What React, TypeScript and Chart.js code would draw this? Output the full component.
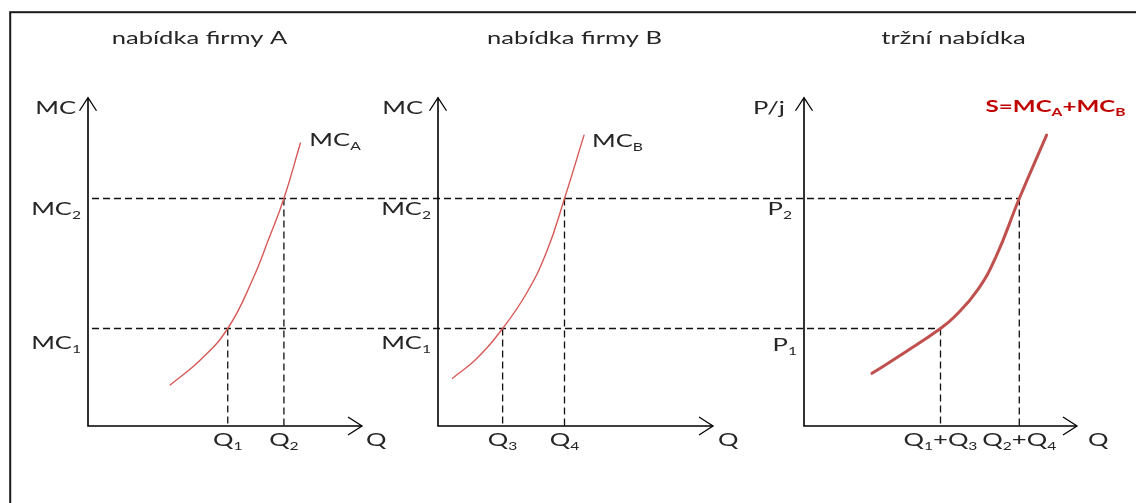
import React, { useEffect, useRef } from 'react';
import { Chart, registerables } from 'chart.js';

Chart.register(...registerables);

// Cost / price levels shared by all three panels (MC1 = P1, MC2 = P2)
const costLevels = [3, 7];
// Quantities each firm supplies at those cost levels
const firmAQuantities = [5.1, 7.15]; // Q1, Q2
const firmBQuantities = [2.35, 4.6]; // Q3, Q4
// Market supply is the horizontal sum of the two firms
const marketQuantities = firmAQuantities.map((q, i) => q + firmBQuantities[i]);

// Marginal cost curve of firm A
const firmAQ = [3.0, 4.1, 5.1, 6.0, 6.58, 7.15, 7.75];
const firmAMC = [1.26, 2.03, 3, 4.49, 5.72, 7, 8.7];
// Marginal cost curve of firm B
const firmBQ = [0.53, 1.41, 2.35, 3.23, 3.95, 4.6, 5.31];
const firmBMC = [1.47, 2.08, 3, 4.1, 5.36, 7, 8.95];
// Market supply curve
const marketQ = [3.71, 5.58, 7.45, 8.21, 9.47, 10.48, 11.75, 13.24];
const marketP = [1.62, 2.29, 3, 3.36, 4.18, 5.21, 7, 8.95];

// Text: each label is a list of [normal text, subscript] pairs
type Rich = [string, string][];
const panelTitles = ['nabídka firmy A', 'nabídka firmy B', 'tržní nabídka'];
const axisNames: Rich[] = [[['MC', '']], [['MC', '']], [['P/j', '']]];
const levelLabels: Rich[][] = [
  [[['MC', '1']], [['MC', '2']]],
  [[['MC', '1']], [['MC', '2']]],
  [[['P', '1']], [['P', '2']]],
];
const quantityLabels: Rich[][] = [
  [[['Q', '1']], [['Q', '2']]],
  [[['Q', '3']], [['Q', '4']]],
  [[['Q', '1'], ['+Q', '3']], [['Q', '2'], ['+Q', '4']]],
];
const curveLabels: Rich[] = [[['MC', 'A']], [['MC', 'B']], [['S=MC', 'A'], ['+MC', 'B']]];

// ---- layout ----
const W = 1136;
const H = 503;
const Y_ORIGIN = 426;
const Y_PPU = 32.5;
const Y_TOP = 10.1;
const FONT_FAMILY = "Lato, 'Open Sans', sans-serif";
const MAIN_FONT = `18px ${FONT_FAMILY}`;
const SUB_FONT = `11px ${FONT_FAMILY}`;
const TEXT_STRETCH = 1.42; // wide lettering
const TEXT_COLOR = '#262626';

const PANELS = [
  { id: 'qa', left: 0, width: 400, origin: 88, tip: 362, qMax: 10, titleX: 199.5,
    nameGap: 12, levelGap: [7, 7], levelDrop: [20, 16], qGap: 4, label: [9, 3] },
  { id: 'qb', left: 400, width: 370, origin: 438, tip: 713, qMax: 10, titleX: 574.5,
    nameGap: 15, levelGap: [7, 7], levelDrop: [20, 16], qGap: 5, label: [8, 12] },
  { id: 'qc', left: 770, width: 366, origin: 804, tip: 1077, qMax: 14.9, titleX: 953.5,
    nameGap: 19, levelGap: [7, 12], levelDrop: [22, 16], qGap: 11, label: [-61, -23] },
];

function drawRich(
  ctx: CanvasRenderingContext2D,
  parts: Rich,
  x: number,
  y: number,
  align: 'left' | 'center' | 'right',
  mainFont = MAIN_FONT,
  subFont = SUB_FONT,
) {
  const sizes = parts.map(([m, s]) => {
    ctx.font = mainFont;
    const wm = ctx.measureText(m).width * TEXT_STRETCH;
    ctx.font = subFont;
    const ws = s ? ctx.measureText(s).width * TEXT_STRETCH : 0;
    return [wm, ws];
  });
  const total = sizes.reduce((a, [wm, ws]) => a + wm + ws, 0);
  let cx = align === 'center' ? x - total / 2 : align === 'right' ? x - total : x;
  ctx.textAlign = 'left';
  ctx.textBaseline = 'alphabetic';
  const put = (t: string, font: string, px: number, py: number) => {
    ctx.save();
    ctx.font = font;
    ctx.translate(px, py);
    ctx.scale(TEXT_STRETCH, 1);
    ctx.fillText(t, 0, 0);
    ctx.restore();
  };
  parts.forEach(([m, s], i) => {
    put(m, mainFont, cx, y);
    cx += sizes[i][0];
    if (s) {
      put(s, subFont, cx, y + 4);
      cx += sizes[i][1];
    }
  });
}

function chevron(ctx: CanvasRenderingContext2D, pts: number[][]) {
  ctx.beginPath();
  ctx.moveTo(pts[0][0], pts[0][1]);
  ctx.lineTo(pts[1][0], pts[1][1]);
  ctx.lineTo(pts[2][0], pts[2][1]);
  ctx.stroke();
}

const panelQuantities = [firmAQuantities, firmBQuantities, marketQuantities];

const diagramPlugin = {
  id: 'supplyDiagram',
  beforeDatasetsDraw(chart: any) {
    const ctx: CanvasRenderingContext2D = chart.ctx;
    const ys = chart.scales.p;
    const xs = PANELS.map((p) => chart.scales[p.id]);
    const y0 = ys.getPixelForValue(0);
    const yTop = ys.getPixelForValue(Y_TOP);
    ctx.save();

    // frame
    ctx.strokeStyle = '#1a1a1a';
    ctx.lineWidth = 2;
    ctx.strokeRect(10.2, 12.2, W + 40, H + 40);

    // dashed guide lines
    ctx.strokeStyle = '#111';
    ctx.lineWidth = 1.3;
    ctx.setLineDash([7, 4]);
    costLevels.forEach((level, i) => {
      const yl = ys.getPixelForValue(level);
      ctx.beginPath();
      ctx.moveTo(xs[0].getPixelForValue(0) + 4, yl);
      ctx.lineTo(xs[2].getPixelForValue(marketQuantities[i]), yl);
      ctx.stroke();
      xs.forEach((sc: any, k: number) => {
        const xq = sc.getPixelForValue(panelQuantities[k][i]);
        ctx.beginPath();
        ctx.moveTo(xq, yl);
        ctx.lineTo(xq, y0);
        ctx.stroke();
      });
    });
    ctx.setLineDash([]);

    // axes with open arrow heads
    ctx.strokeStyle = '#000';
    PANELS.forEach((p, k) => {
      const sc = xs[k];
      const x0 = sc.getPixelForValue(0);
      const xTip = sc.getPixelForValue(p.qMax);
      ctx.lineWidth = 1.6;
      ctx.beginPath();
      ctx.moveTo(x0, yTop);
      ctx.lineTo(x0, y0);
      ctx.lineTo(xTip, y0);
      ctx.stroke();
      ctx.lineWidth = 1.3;
      chevron(ctx, [[x0 - 8.5, yTop + 13], [x0, yTop], [x0 + 8.5, yTop + 13]]);
      chevron(ctx, [[xTip - 14, y0 - 9], [xTip, y0], [xTip - 14, y0 + 9]]);
    });
    ctx.restore();
  },
  afterDatasetsDraw(chart: any) {
    const ctx: CanvasRenderingContext2D = chart.ctx;
    const ys = chart.scales.p;
    const xs = PANELS.map((p) => chart.scales[p.id]);
    const y0 = ys.getPixelForValue(0);
    const yTop = ys.getPixelForValue(Y_TOP);
    ctx.save();
    ctx.fillStyle = TEXT_COLOR;

    PANELS.forEach((p, k) => {
      const sc = xs[k];
      const x0 = sc.getPixelForValue(0);
      drawRich(ctx, [[panelTitles[k], '']], p.titleX, 44, 'center');
      drawRich(ctx, axisNames[k], x0 - p.nameGap, yTop + 16, 'right');
      costLevels.forEach((level, i) => {
        const yl = ys.getPixelForValue(level);
        drawRich(ctx, levelLabels[k][i], x0 - p.levelGap[i], yl + p.levelDrop[i], 'right');
        const xq = sc.getPixelForValue(panelQuantities[k][i]);
        drawRich(ctx, quantityLabels[k][i], xq, y0 + 20, 'center');
      });
      drawRich(ctx, [['Q', '']], sc.getPixelForValue(p.qMax) + p.qGap, y0 + 20, 'left');

      // curve name next to the upper end of each curve
      const meta = chart.getDatasetMeta(k);
      const last = meta.data[meta.data.length - 1];
      if (k === 2) {
        ctx.fillStyle = '#c00000';
        drawRich(ctx, curveLabels[k], last.x + p.label[0], last.y + p.label[1], 'left',
          `bold 17px ${FONT_FAMILY}`, `bold 11px ${FONT_FAMILY}`);
        ctx.fillStyle = TEXT_COLOR;
      } else {
        drawRich(ctx, curveLabels[k], last.x + p.label[0], last.y + p.label[1], 'left');
      }
    });
    ctx.restore();
  },
};

export default function App() {
  const canvasRef = useRef<HTMLCanvasElement | null>(null);

  useEffect(() => {
    if (!canvasRef.current) return;
    const scales: any = {
      p: {
        type: 'linear',
        axis: 'y',
        position: 'left',
        display: false,
        min: -(H - Y_ORIGIN) / Y_PPU,
        max: Y_ORIGIN / Y_PPU,
      },
    };
    PANELS.forEach((p) => {
      const ppu = (p.tip - p.origin) / p.qMax;
      scales[p.id] = {
        type: 'linear',
        axis: 'x',
        position: 'bottom',
        display: false,
        stack: 'panels',
        stackWeight: p.width,
        min: (p.left - p.origin) / ppu,
        max: (p.left + p.width - p.origin) / ppu,
      };
    });

    const curve = (qs: number[], vs: number[], axis: string, color: string, width: number) => ({
      type: 'line' as const,
      data: qs.map((q, i) => ({ x: q, y: vs[i] })),
      xAxisID: axis,
      yAxisID: 'p',
      borderColor: color,
      borderWidth: width,
      borderCapStyle: 'round' as const,
      pointRadius: 0,
      fill: false,
      tension: 0.45,
      clip: false as any,
    });

    const chart = new Chart(canvasRef.current, {
      type: 'line',
      data: {
        datasets: [
          curve(firmAQ, firmAMC, 'qa', '#d75a58', 1.4),
          curve(firmBQ, firmBMC, 'qb', '#d75a58', 1.4),
          curve(marketQ, marketP, 'qc', '#c0504d', 3),
        ],
      },
      options: {
        responsive: false,
        animation: false,
        devicePixelRatio: 1,
        events: [],
        layout: { padding: 0 },
        plugins: { legend: { display: false }, tooltip: { enabled: false } },
        scales,
      },
      plugins: [diagramPlugin],
    });
    return () => chart.destroy();
  }, []);

  return (
    <div style={{ position: 'fixed', left: 0, top: 0, width: W, height: H, background: '#fff' }}>
      <canvas ref={canvasRef} width={W} height={H} style={{ display: 'block' }} />
    </div>
  );
}
